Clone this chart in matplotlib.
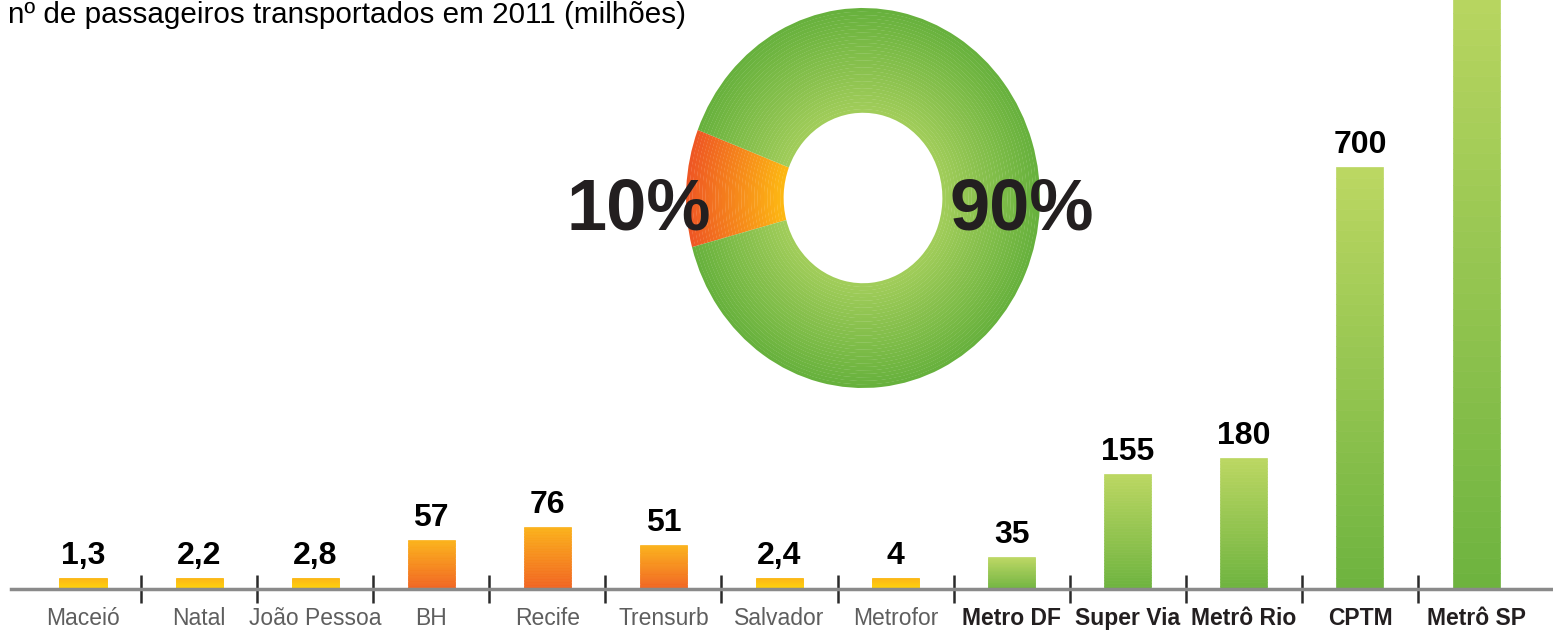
import numpy as np
import matplotlib
matplotlib.use("Agg")
import matplotlib.pyplot as plt
from matplotlib import font_manager
from matplotlib.colors import to_rgb

# === Data ===
categories = ["Maceió", "Natal", "João Pessoa", "BH", "Recife", "Trensurb", "Salvador", "Metrofor",
              "Metro DF", "Super Via", "Metrô Rio", "CPTM", "Metrô SP"]
passengers = [1.3, 2.2, 2.8, 57, 76, 51, 2.4, 4, 35, 155, 180, 700, 1100]  # milhões, 2011
operator_group = ["CBTU"] * 8 + ["outros"] * 5
share_labels = ["10%", "90%"]
share_values = [10, 90]
title = "nº de passageiros transportados em 2011 (milhões)"

# === Fonts ===
installed = {f.name for f in font_manager.fontManager.ttflist}
arial = "Liberation Sans" if "Liberation Sans" in installed else "DejaVu Sans"
narrow = "Liberation Sans Narrow" if "Liberation Sans Narrow" in installed else arial
plt.rcParams["font.family"] = [arial, "DejaVu Sans"]

W, H = 1553, 637
fig = plt.figure(figsize=(W / 100, H / 100), dpi=100)


def mix(c0, c1, t):
    a, b = np.array(to_rgb(c0)), np.array(to_rgb(c1))
    return tuple(a * (1 - t) + b * t)


# power scale (the infographic is not drawn linearly)
POW = 0.86
fwd = lambda v: np.sign(v) * np.abs(v) ** POW
inv = lambda v: np.sign(v) * np.abs(v) ** (1 / POW)
min_visible = 10  # tiny values still get a small bar

baseline_px = 589
ax = fig.add_axes([0, (H - baseline_px) / H, 1, baseline_px / H])
ax.set_yscale("function", functions=(fwd, inv))
ax.set_ylim(0, 1032)
ax.set_xlim(-0.715, 12.663)
for s in ax.spines.values():
    s.set_visible(False)
ax.set_yticks([])

colors = {
    "small": ("#ffd60a", "#fbb817"),   # bottom, top
    "CBTU": ("#f16222", "#fbb21a"),
    "outros": ("#6db33f", "#bcd762"),
}
n_seg = 40
bar_w = 0.405
for i, (v, g) in enumerate(zip(passengers, operator_group)):
    h = max(v, min_visible)
    key = "small" if v < min_visible else g
    c_bot, c_top = colors[key]
    T = fwd(h)
    for k in range(n_seg):
        b0, b1 = inv(T * k / n_seg), inv(T * (k + 1) / n_seg)
        c = mix(c_bot, c_top, (k + 0.5) / n_seg)
        ax.bar(i, b1 - b0, bottom=b0, width=bar_w, color=c, edgecolor=c, linewidth=0.5, zorder=2)
    if h < ax.get_ylim()[1]:
        txt = f"{v:g}".replace(".", ",")
        ax.annotate(txt, (i, h), xytext=(0, 5), textcoords="offset points", ha="center", va="bottom",
                    fontsize=23, fontweight="bold", family=arial, color="black")

# baseline and separators
ax.axhline(0, xmin=11 / W, xmax=1, color="#8a8a8a", lw=2.5, zorder=3, clip_on=False)
ax.set_xticks(range(len(categories)), categories)
ax.set_xticks(np.arange(len(categories) - 1) + 0.5, minor=True)
ax.tick_params(axis="x", which="major", length=0, pad=13)
ax.tick_params(axis="x", which="minor", direction="inout", length=19.5, width=1.8, color="#2b2b2b")
for lbl, g in zip(ax.get_xticklabels(), operator_group):
    lbl.set_family(narrow)
    if g == "CBTU":
        lbl.set_fontsize(16.5)
        lbl.set_color("#5e5e5e")
    else:
        lbl.set_fontsize(16.5)
        lbl.set_fontweight("bold")
        lbl.set_color("#231f20")

# === Donut (share of passengers) ===
cx, cy, rx, ry = 863, 198, 177, 190
pax = fig.add_axes([(cx - rx) / W, (H - cy - ry) / H, 2 * rx / W, 2 * ry / H])
r_in = 0.45
n_rings = 30
radii = np.linspace(1, r_in, n_rings + 1)
for k in range(n_rings):
    r, w = radii[k], radii[k] - radii[k + 1]
    t = (r - w / 2 - r_in) / (1 - r_in)
    cols = [mix("#fdb913", "#ee5524", t), mix("#a2cd5a", "#66b13c", t)]
    pax.pie(share_values, radius=r, startangle=159, colors=cols,
            wedgeprops=dict(width=w * 1.08, linewidth=0))
pax.set_aspect("auto")
pax.set_xlim(-1, 1)
pax.set_ylim(-1, 1)
pax.axis("off")

fig.text(639 / W, 1 - 230 / H, share_labels[0], ha="center", va="baseline", fontsize=52,
         fontweight="bold", family=narrow, color="#231f20", zorder=5)
fig.text(1022 / W, 1 - 230 / H, share_labels[1], ha="center", va="baseline", fontsize=52,
         fontweight="bold", family=narrow, color="#231f20", zorder=5)

fig.text(8 / W, 1 - 23 / H, title, ha="left", va="baseline", fontsize=21.3, family=arial, color="black")

fig.savefig("out.png", dpi=100)
